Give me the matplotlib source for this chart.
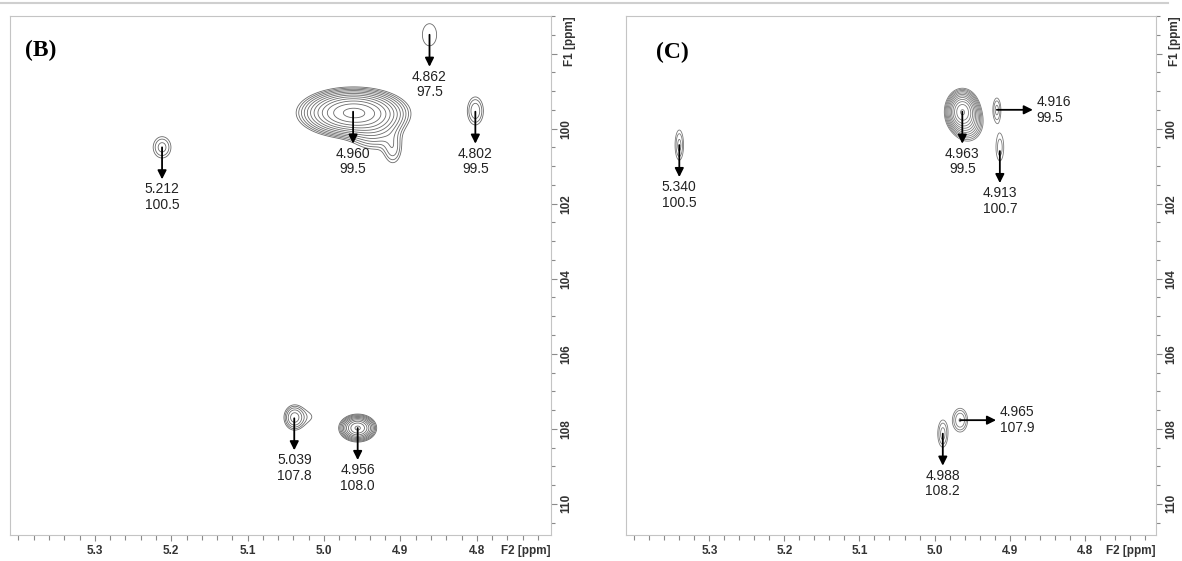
import numpy as np
import matplotlib
matplotlib.use('Agg')
import matplotlib.pyplot as plt
from matplotlib.ticker import FixedLocator, MultipleLocator

# HSQC cross peaks, panel (B): label values and peak maxima
b_lab_h = ['4.862', '4.960', '4.802', '5.212', '5.039', '4.956']
b_lab_c = ['97.5', '99.5', '99.5', '100.5', '107.8', '108.0']
b_peak_h = [4.862, 4.962, 4.802, 5.212, 5.039, 4.956]
b_peak_c = [97.5, 99.55, 99.55, 100.5, 107.72, 107.98]
b_dir = ['down', 'down', 'down', 'down', 'down', 'down']

# panel (C)
c_lab_h = ['5.340', '4.963', '4.916', '4.913', '4.988', '4.965']
c_lab_c = ['100.5', '99.5', '99.5', '100.7', '108.2', '107.9']
c_peak_h = [5.340, 4.963, 4.917, 4.913, 4.989, 4.966]
c_peak_c = [100.44, 99.55, 99.5, 100.6, 108.13, 107.77]
c_dir = ['down', 'down', 'right', 'down', 'down', 'right']

# gaussian spots making up the contour maps: (F2, F1, width F2, width F1, height)
b_spots = [
    (4.862, 97.50, 0.0120, 0.38, 1.35),
    (4.962, 99.58, 0.0270, 0.25, 45.0),
    (4.934, 99.95, 0.0190, 0.33, 5.0),
    (4.910, 100.55, 0.0080, 0.28, 2.2),
    (4.802, 99.53, 0.0076, 0.27, 2.6),
    (5.212, 100.50, 0.0090, 0.22, 2.3),
    (5.039, 107.70, 0.0077, 0.19, 4.5),
    (5.020, 107.68, 0.0120, 0.20, 1.0),
    (4.956, 107.98, 0.0100, 0.15, 22.0),
]
c_spots = [
    (5.340, 100.44, 0.0045, 0.32, 2.2),
    (4.963, 99.55, 0.0088, 0.23, 40.0),
    (4.955, 99.85, 0.0100, 0.25, 6.0),
    (4.917, 99.50, 0.0042, 0.25, 2.2),
    (4.913, 100.50, 0.0050, 0.35, 1.7),
    (4.989, 108.13, 0.0052, 0.28, 2.3),
    (4.966, 107.77, 0.0070, 0.22, 2.8),
]

levels = 1.0 * 1.4 ** np.arange(12)

fig = plt.figure(figsize=(11.82, 5.61), dpi=100)
W, H = 1182, 561


def spectrum(spots):
    h = np.linspace(5.45, 4.68, 900)
    c = np.linspace(96.8, 111.0, 700)
    X, Y = np.meshgrid(h, c)
    Z = np.zeros_like(X)
    for h0, c0, sh, sc, a in spots:
        Z += a * np.exp(-0.5 * (((X - h0) / sh) ** 2 + ((Y - c0) / sc) ** 2))
    return X, Y, Z


def panel(rect_px, xlim, spots, peak_h, peak_c, lab_h, lab_c, dirs, tag, tag_xy, line_col):
    x0, y0, x1, y1 = rect_px
    ax = fig.add_axes([x0 / W, 1 - y1 / H, (x1 - x0) / W, (y1 - y0) / H])
    X, Y, Z = spectrum(spots)
    ax.contour(X, Y, Z, levels=levels, colors=line_col, linewidths=0.6)
    ax.set_xlim(*xlim)
    ax.set_ylim(110.83, 97.0)

    px_h = (x1 - x0) / abs(xlim[0] - xlim[1])
    px_c = (y1 - y0) / (110.83 - 97.0)

    for h, c, th, tc, d in zip(peak_h, peak_c, lab_h, lab_c, dirs):
        if d == 'down':
            end = (h, c + 32 / px_c)
            ax.text(h, c + 35 / px_c, th + '\n' + tc, ha='center', va='top',
                    fontsize=10, color='#222222', family='Liberation Sans',
                    linespacing=1.15)
        else:
            end = (h - 36 / px_h, c)
            ax.text(h - 40 / px_h, c, th + '\n' + tc, ha='left', va='center',
                    fontsize=10, color='#222222', family='Liberation Sans',
                    linespacing=1.15)
        ax.annotate('', xy=end, xytext=(h, c),
                    arrowprops=dict(arrowstyle='-|>', color='black', lw=1.3,
                                    mutation_scale=13, shrinkA=0, shrinkB=0))

    ax.xaxis.set_major_locator(FixedLocator([5.3, 5.2, 5.1, 5.0, 4.9, 4.8]))
    ax.xaxis.set_minor_locator(FixedLocator(np.round(np.arange(4.72, 5.41, 0.02), 2)))
    ax.set_xticklabels(['5.3', '5.2', '5.1', '5.0', '4.9', '4.8'])
    ax.yaxis.set_major_locator(FixedLocator([98, 100, 102, 104, 106, 108, 110]))
    ax.yaxis.set_minor_locator(MultipleLocator(0.5))
    ax.set_yticklabels(['', '100', '102', '104', '106', '108', '110'])

    ax.tick_params(axis='x', which='both', direction='out', color='#8a8a8a',
                   width=0.8, labelsize=8.5, labelcolor='#333333', pad=3)
    ax.tick_params(axis='x', which='major', length=4.5)
    ax.tick_params(axis='x', which='minor', length=3.8)
    ax.tick_params(axis='y', which='both', left=False, right=True, labelleft=False,
                   labelright=True, direction='out', color='#8a8a8a', width=0.8,
                   labelsize=8.5, labelcolor='#333333', labelrotation=90, pad=2)
    ax.tick_params(axis='y', which='major', length=4.5)
    ax.tick_params(axis='y', which='minor', length=3)
    for lbl in ax.get_xticklabels() + ax.get_yticklabels():
        lbl.set_fontweight('bold')
        lbl.set_family('Liberation Sans')
    for lbl in ax.get_yticklabels():
        lbl.set_va('center')

    for s in ax.spines.values():
        s.set_color('#c4c4c4')
        s.set_linewidth(0.8)

    wpx, hpx = x1 - x0, y1 - y0
    ax.text(1 + 19 / wpx, 1 - 25 / hpx, 'F1 [ppm]', transform=ax.transAxes,
            rotation=90, ha='center', va='center', fontsize=8.5, fontweight='bold',
            color='#333333', family='Liberation Sans')
    ax.text(1 - 25 / wpx, -16 / hpx, 'F2 [ppm]', transform=ax.transAxes,
            ha='center', va='center', fontsize=8.5, fontweight='bold',
            color='#333333', family='Liberation Sans')
    ax.text(tag_xy[0], tag_xy[1], tag, transform=ax.transAxes, ha='center',
            va='center', fontsize=17, fontweight='bold', family='Liberation Serif')
    return ax


panel((10, 16, 551, 535), (5.411, 4.703), b_spots, b_peak_h, b_peak_c,
      b_lab_h, b_lab_c, b_dir, '(B)', (0.056, 0.934), '#6a6a6a')
panel((626, 16, 1156, 535), (5.411, 4.705), c_spots, c_peak_h, c_peak_c,
      c_lab_h, c_lab_c, c_dir, '(C)', (0.087, 0.929), '#7a7a7a')

fig.add_artist(plt.Line2D([0, 0.988], [1 - 2.5 / H, 1 - 2.5 / H],
                          transform=fig.transFigure, color='#cfcfcf', lw=1.5))

fig.savefig('out.png', dpi=100)
